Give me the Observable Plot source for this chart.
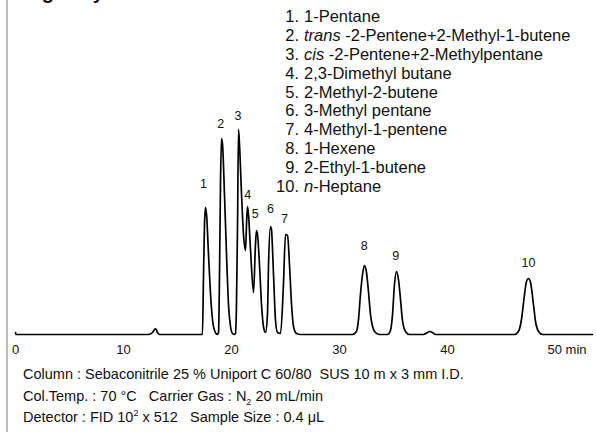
<!DOCTYPE html>
<html>
<head>
<meta charset="utf-8">
<script src="https://cdn.jsdelivr.net/npm/d3@7"></script>
<script src="https://cdn.jsdelivr.net/npm/@observablehq/plot@0.6"></script>
<style>
  html, body { margin: 0; padding: 0; background: #fff; }
  body { font-family: "Liberation Sans", Arial, Helvetica, sans-serif; color: #111; }
  #wrap { position: relative; width: 596px; height: 432px; overflow: hidden; }
  #border { position: absolute; left: 6px; top: 0; width: 2px; height: 432px; background: #bdbdbd; }
  #title { position: absolute; left: 24px; top: -19px; font-size: 20px; font-weight: bold; white-space: nowrap; }
  #legend { position: absolute; left: 0; top: 7px; font-size: 16.5px; line-height: 18.9px; }
  #legend .row { position: relative; height: 18.9px; white-space: nowrap; }
  #legend .num { position: absolute; right: calc(100% - 299px); text-align: right; }
  #legend .txt { position: absolute; left: 304px; }
  #footer { position: absolute; left: 23px; top: 364px; font-size: 14.5px; line-height: 21.5px; white-space: nowrap; }
  sub, sup { font-size: 9px; line-height: 0; }
  #chart { position: absolute; left: 0; top: 0; }
</style>
</head>
<body>
<div id="wrap">
  <div id="chart"></div>
  <div id="border"></div>
  <div id="title">Light Hydrocarbons</div>
  <div id="legend"></div>
  <div id="footer"></div>
</div>
<script>
// Chromatogram trace: retention time (min) and detector signal (arbitrary units)
const traceTime = [0, 0.05, 12.31, 12.69, 12.96, 13.15, 13.33, 17.31, 17.41, 17.5, 17.59, 17.69, 17.87, 18.06, 18.24, 18.43, 18.70,
  18.80, 18.89, 18.98, 19.07, 19.17, 19.35, 19.54, 19.72, 19.91, 20.09, 20.28,
  20.37, 20.46, 20.56, 20.65, 20.74, 20.93, 21.11, 21.30, 21.39, 21.48, 21.57, 21.76, 22.04,
  22.22, 22.31, 22.41, 22.59, 22.78, 22.96, 23.15, 23.33, 23.43, 23.61, 23.70, 23.89, 24.07, 24.26,
  24.54, 24.81, 25.00, 25.19, 25.37, 25.56, 25.74, 26.02, 26.39,
  31.20, 31.57, 31.76, 31.94, 32.13, 32.31, 32.50, 32.69, 32.87, 33.06, 33.33, 33.70,
  34.44, 34.72, 34.91, 35.09, 35.28, 35.46, 35.65, 35.83, 36.11, 36.48,
  37.78, 38.15, 38.33, 38.61, 38.89,
  46.20, 46.57, 46.85, 47.13, 47.31, 47.50, 47.69, 47.96, 48.15, 48.43, 48.80, 53.43];
const traceSignal = [2, 0, 0, 2, 6, 2, 0, 0, 60, 110, 127, 120, 80, 40, 15, 4, 0,
  2, 60, 150, 196, 190, 140, 80, 30, 8, 1, 0,
  1, 30, 110, 205, 190, 140, 100, 84, 110, 128, 120, 85, 42,
  90, 104, 100, 70, 30, 8, 2, 20, 70, 108, 105, 60, 15, 2,
  1, 50, 100, 99, 70, 30, 8, 1, 0,
  0, 3, 15, 40, 60, 69, 62, 42, 20, 8, 2, 0,
  0, 4, 20, 50, 63, 55, 35, 14, 3, 0,
  0, 2, 3, 2, 0,
  0, 3, 15, 40, 53, 56, 52, 30, 13, 3, 0, 0];

// Peak number labels
const peakLabels = ["1", "2", "3", "4", "5", "6", "7", "8", "9", "10"];
const peakLabelTime = [17.4, 19.0, 20.6, 21.5, 22.2, 23.6, 24.9, 32.3, 35.2, 47.5];
const peakLabelSignal = [151, 211, 219, 140, 121, 126, 116, 89, 79, 72];

// Compound legend
const compoundNums = ["1.", "2.", "3.", "4.", "5.", "6.", "7.", "8.", "9.", "10."];
const compoundNames = ["1-Pentane", "<i>trans</i> -2-Pentene+2-Methyl-1-butene", "<i>cis</i> -2-Pentene+2-Methylpentane",
  "2,3-Dimethyl butane", "2-Methyl-2-butene", "3-Methyl pentane", "4-Methyl-1-pentene", "1-Hexene",
  "2-Ethyl-1-butene", "<i>n</i>-Heptane"];

// Axis ticks
const xTicks = [0, 10, 20, 30, 40];
const xLastTick = [50];

// Footer conditions
const footerLines = [
  "Column : Sebaconitrile 25 % Uniport C 60/80&nbsp;&nbsp;SUS 10 m x 3 mm I.D.",
  "Col.Temp. : 70 °C&nbsp;&nbsp;&nbsp;Carrier Gas : N<sub>2</sub> 20 mL/min",
  "Detector : FID 10<sup>2</sup> x 512&nbsp;&nbsp;&nbsp;Sample Size : 0.4 μL"
];

const trace = traceTime.map((t, i) => ({t, s: traceSignal[i]}));
const labels = peakLabels.map((l, i) => ({l, t: peakLabelTime[i], s: peakLabelSignal[i]}));

const plot = Plot.plot({
  width: 596,
  height: 360,
  marginLeft: 15,
  marginRight: 41,
  marginTop: 129,
  marginBottom: 26,
  style: {fontFamily: '"Liberation Sans", Arial, Helvetica, sans-serif', fontSize: "13px", color: "#111", background: "transparent", overflow: "visible"},
  x: {domain: [0, 50]},
  y: {domain: [0, 205], axis: null},
  marks: [
    Plot.axisX({ticks: xTicks, tickSize: 0, tickPadding: 10, label: null, fontSize: 13}),
    Plot.axisX({ticks: xLastTick, tickSize: 0, tickPadding: 10, label: null, fontSize: 13, textAnchor: "start", dx: -8, tickFormat: d => d + " min"}),
    Plot.line(trace, {x: "t", y: "s", stroke: "#000", strokeWidth: 1.7, curve: "monotone-x"}),
    Plot.text(labels, {x: "t", y: "s", text: "l", fontSize: 12.5, fill: "#111"})
  ]
});
document.getElementById("chart").appendChild(plot);

const legend = document.getElementById("legend");
compoundNums.forEach((n, i) => {
  const row = document.createElement("div");
  row.className = "row";
  row.innerHTML = `<span class="num">${n}</span><span class="txt">${compoundNames[i]}</span>`;
  legend.appendChild(row);
});
document.getElementById("footer").innerHTML = footerLines.map(l => `<div>${l}</div>`).join("");
</script>
</body>
</html>
